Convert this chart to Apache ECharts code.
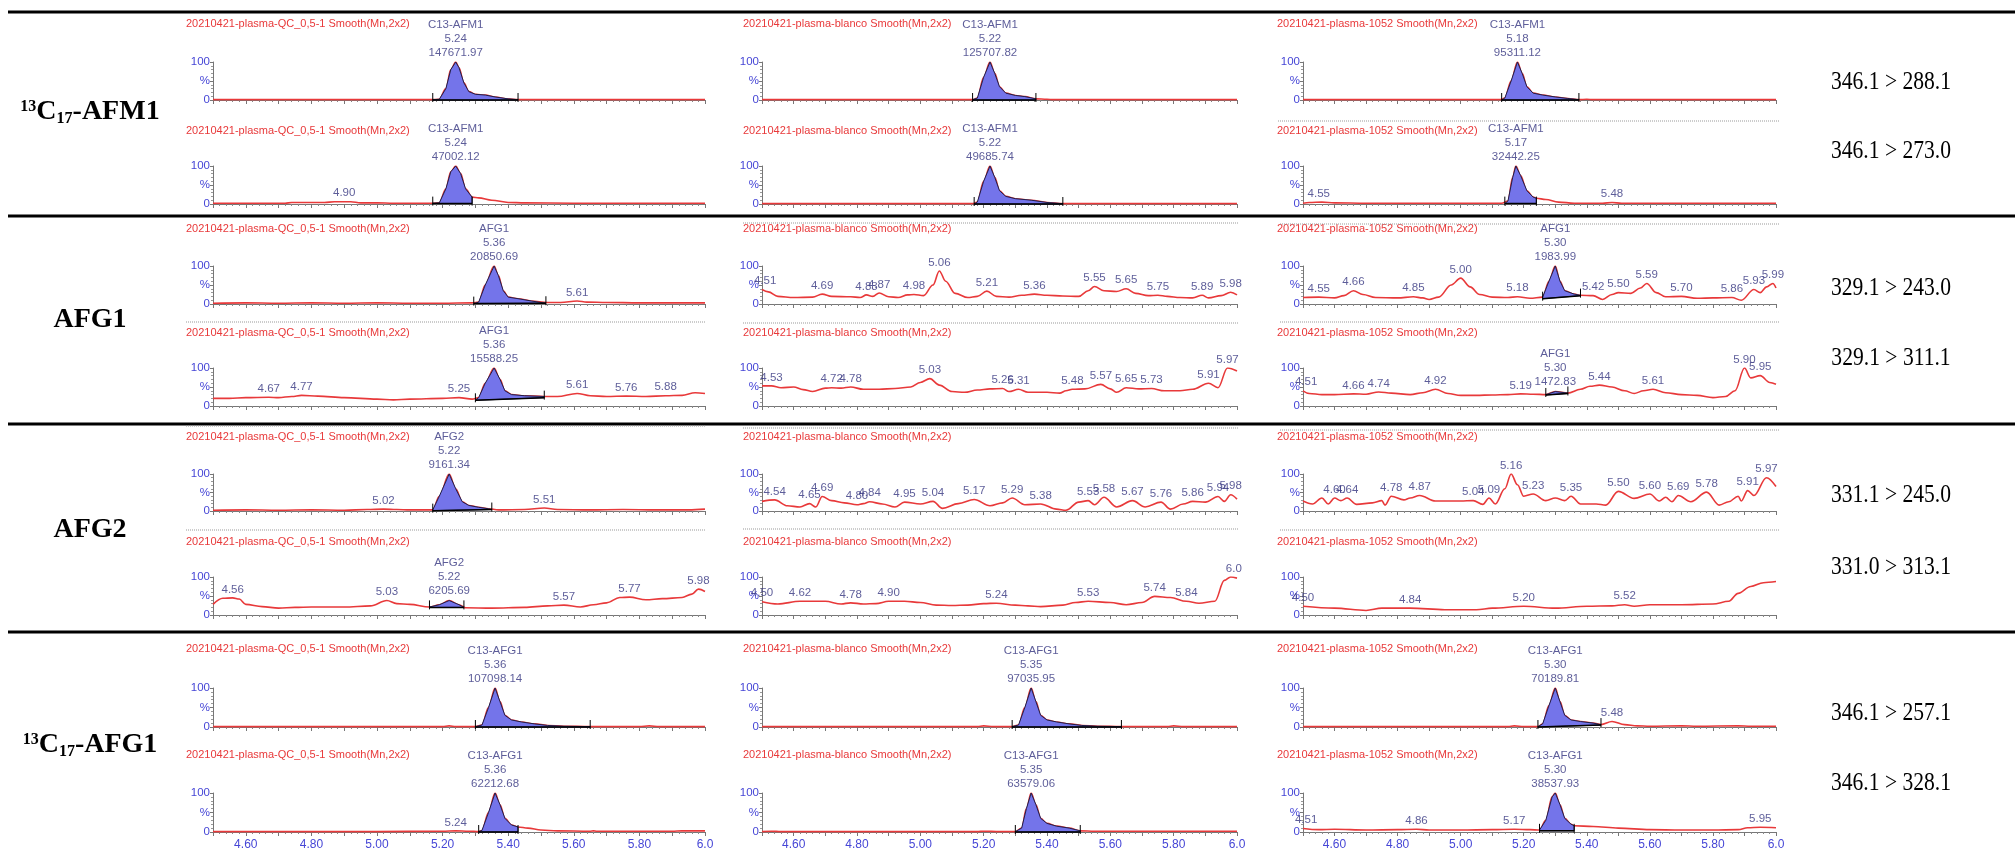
<!DOCTYPE html>
<html><head><meta charset="utf-8">
<script src="https://cdn.jsdelivr.net/npm/echarts@6/dist/echarts.min.js"></script>
<style>html,body{margin:0;padding:0;background:#fff}#c{width:2015px;height:856px}</style>
</head><body><div id="c"></div>
<script>
// ================= DATA =================
const compounds = ['13C17-AFM1', 'AFG1', 'AFG2', '13C17-AFG1'];
const transitions = [
  ['346.1 > 288.1', '346.1 > 273.0'],
  ['329.1 > 243.0', '329.1 > 311.1'],
  ['331.1 > 245.0', '331.0 > 313.1'],
  ['346.1 > 257.1', '346.1 > 328.1']
];
const samples = ['20210421-plasma-QC_0,5-1 Smooth(Mn,2x2)', '20210421-plasma-blanco Smooth(Mn,2x2)', '20210421-plasma-1052 Smooth(Mn,2x2)'];
const peakNames = ['C13-AFM1', 'AFG1', 'AFG2', 'C13-AFG1'];
const xLabels = ['4.60', '4.80', '5.00', '5.20', '5.40', '5.60', '5.80', '6.0'];

// --- row 1: 13C17-AFM1 ---
const afm1_qc_1 = [[4.5,1],[4.8,1],[5.0,1],[5.17,1],[5.19,2],[5.21,30],[5.225,80],[5.24,100],[5.25,85],[5.265,45],[5.28,22],[5.30,15],[5.33,13],[5.36,8],[5.40,3],[5.43,1],[5.6,1],[6.0,1]];
const afm1_qc_2 = [[4.5,2],[4.72,2],[4.74,4],[4.84,4],[4.87,6],[4.92,6],[4.95,3],[5.0,3],[5.05,2],[5.17,2],[5.19,3],[5.21,40],[5.225,85],[5.24,100],[5.255,80],[5.27,40],[5.29,18],[5.31,16],[5.35,10],[5.40,4],[5.45,3],[5.6,2],[6.0,2]];
const afm1_bl_1 = [[4.5,1],[5.0,1],[5.165,1],[5.18,5],[5.20,60],[5.22,100],[5.235,70],[5.25,35],[5.27,18],[5.30,12],[5.33,9],[5.365,3],[5.40,2],[5.42,1],[6.0,1]];
const afm1_bl_2 = [[4.5,1],[5.0,1],[5.165,1],[5.18,5],[5.20,60],[5.22,100],[5.235,70],[5.25,35],[5.27,20],[5.30,14],[5.35,10],[5.40,4],[5.45,1],[6.0,1]];
const afm1_s_1 = [[4.5,1],[5.0,1],[5.125,1],[5.14,5],[5.16,50],[5.18,100],[5.195,70],[5.21,35],[5.23,18],[5.26,13],[5.30,8],[5.34,4],[5.375,1],[5.40,2],[5.42,1],[6.0,1]];
const afm1_s_2 = [[4.5,2],[4.52,4],[4.56,5],[4.6,3],[4.7,2],[5.13,2],[5.15,8],[5.165,70],[5.175,100],[5.19,75],[5.21,35],[5.23,18],[5.24,15],[5.27,12],[5.31,5],[5.36,2],[5.45,2],[5.48,4],[5.51,2],[6.0,2]];
// integration: [start rt, start %, end rt, end %, rt label, area]
const int_afm1_qc_1 = [5.17, 0, 5.43, 0, '5.24', '147671.97'];
const int_afm1_qc_2 = [5.17, 1, 5.29, 1, '5.24', '47002.12'];
const int_afm1_bl_1 = [5.165, 0, 5.365, 0, '5.22', '125707.82'];
const int_afm1_bl_2 = [5.17, 0, 5.45, 0, '5.22', '49685.74'];
const int_afm1_s_1 = [5.13, 0, 5.375, 0, '5.18', '95311.12'];
const int_afm1_s_2 = [5.14, 1, 5.24, 1, '5.17', '32442.25'];
const lab_afm1_qc_2 = [[4.90, 6]];
const lab_afm1_s_2 = [[4.55, 5], [5.48, 4]];

// --- row 2: AFG1 ---
const afg1_qc_1 = [[4.5,2],[4.6,3],[4.7,2],[4.8,3],[4.9,2],[5.0,3],[5.1,2],[5.2,2],[5.29,3],[5.31,5],[5.33,50],[5.357,100],[5.37,75],[5.385,35],[5.40,18],[5.43,14],[5.47,8],[5.52,4],[5.56,4],[5.61,8],[5.64,5],[5.7,4],[5.8,3],[5.9,3],[6.0,3]];
const afg1_qc_2 = [[4.5,20],[4.55,20],[4.6,22],[4.67,23],[4.7,22],[4.74,25],[4.77,28],[4.82,26],[4.9,22],[5.0,18],[5.05,16],[5.1,18],[5.2,20],[5.25,22],[5.29,18],[5.31,22],[5.33,60],[5.357,100],[5.375,70],[5.39,40],[5.41,30],[5.45,27],[5.51,25],[5.55,25],[5.61,33],[5.65,27],[5.7,25],[5.76,26],[5.82,25],[5.88,27],[5.93,28],[5.97,35],[6.0,33]];
const afg1_bl_1 = [[4.5,38],[4.52,32],[4.55,20],[4.6,17],[4.66,18],[4.69,26],[4.72,20],[4.78,19],[4.81,17],[4.83,24],[4.85,20],[4.87,29],[4.9,19],[4.93,17],[4.96,24],[4.98,25],[5.01,22],[5.04,50],[5.06,87],[5.08,60],[5.11,28],[5.15,17],[5.18,20],[5.21,34],[5.24,20],[5.28,18],[5.32,23],[5.36,26],[5.4,23],[5.45,21],[5.5,20],[5.53,35],[5.55,46],[5.58,35],[5.62,33],[5.65,40],[5.68,28],[5.72,22],[5.75,23],[5.78,20],[5.82,17],[5.86,16],[5.89,23],[5.91,16],[5.95,22],[5.98,31],[6.0,24]];
const afg1_bl_2 = [[4.5,53],[4.53,53],[4.56,48],[4.6,50],[4.63,43],[4.66,38],[4.7,47],[4.72,48],[4.75,47],[4.78,50],[4.82,44],[4.87,44],[4.92,46],[4.97,50],[5.0,62],[5.03,72],[5.06,55],[5.1,38],[5.14,36],[5.18,42],[5.22,45],[5.26,46],[5.28,38],[5.31,44],[5.34,36],[5.4,36],[5.44,34],[5.46,40],[5.48,44],[5.52,45],[5.57,57],[5.6,45],[5.62,36],[5.65,48],[5.69,45],[5.73,46],[5.77,40],[5.82,40],[5.86,44],[5.91,60],[5.94,48],[5.97,100],[6.0,92]];
const afg1_s_1 = [[4.5,17],[4.55,18],[4.6,16],[4.63,22],[4.66,35],[4.69,25],[4.73,17],[4.8,16],[4.85,19],[4.88,16],[4.9,12],[4.93,18],[4.97,50],[5.0,68],[5.03,45],[5.06,25],[5.1,18],[5.15,17],[5.18,19],[5.22,15],[5.26,18],[5.28,60],[5.30,100],[5.315,60],[5.33,35],[5.36,26],[5.38,23],[5.42,22],[5.45,12],[5.48,25],[5.5,30],[5.54,28],[5.57,42],[5.59,54],[5.62,30],[5.65,19],[5.7,20],[5.75,15],[5.8,16],[5.86,17],[5.89,10],[5.93,38],[5.95,30],[5.97,45],[5.99,54],[6.0,42]];
const afg1_s_2 = [[4.5,40],[4.52,33],[4.56,30],[4.6,30],[4.66,32],[4.7,31],[4.74,37],[4.78,34],[4.84,30],[4.88,35],[4.92,44],[4.96,33],[5.0,28],[5.05,28],[5.1,29],[5.15,30],[5.19,32],[5.23,31],[5.27,30],[5.30,38],[5.34,34],[5.38,44],[5.41,52],[5.44,55],[5.48,50],[5.52,40],[5.55,33],[5.58,40],[5.61,44],[5.65,35],[5.7,30],[5.75,28],[5.8,22],[5.84,25],[5.87,40],[5.9,100],[5.92,74],[5.95,80],[5.98,62],[6.0,57]];
const int_afg1_qc_1 = [5.295, 1, 5.515, 2, '5.36', '20850.69'];
const int_afg1_qc_2 = [5.30, 15, 5.51, 22, '5.36', '15588.25'];
const int_afg1_s_1 = [5.26, 14, 5.38, 22, '5.30', '1983.99'];
const int_afg1_s_2 = [5.27, 29, 5.34, 33, '5.30', '1472.83'];
const lab_afg1_qc_1 = [[5.61, 8]];
const lab_afg1_qc_2 = [[4.67,23],[4.77,28],[5.25,22],[5.61,33],[5.76,26],[5.88,27]];
const lab_afg1_bl_1 = [[4.51,38],[4.69,26],[4.83,24],[4.87,29],[4.98,25],[5.06,87],[5.21,34],[5.36,26],[5.55,46],[5.65,40],[5.75,23],[5.89,23],[5.98,31]];
const lab_afg1_bl_2 = [[4.53,53],[4.72,48],[4.78,50],[5.03,72],[5.26,46],[5.31,44],[5.48,44],[5.57,57],[5.65,48],[5.73,46],[5.91,60],[5.97,100]];
const lab_afg1_s_1 = [[4.55,18],[4.66,35],[4.85,19],[5.00,68],[5.18,19],[5.42,22],[5.50,30],[5.59,54],[5.70,20],[5.86,17],[5.93,38],[5.99,54]];
const lab_afg1_s_2 = [[4.51,40],[4.66,32],[4.74,37],[4.92,44],[5.19,32],[5.44,55],[5.61,44],[5.90,100],[5.95,80]];

// --- row 3: AFG2 ---
const afg2_qc_1 = [[4.5,2],[4.6,3],[4.7,2],[4.8,3],[4.9,2],[4.97,4],[5.02,5],[5.06,4],[5.1,3],[5.17,3],[5.19,40],[5.22,100],[5.24,60],[5.26,25],[5.28,15],[5.31,10],[5.34,6],[5.37,3],[5.45,4],[5.51,8],[5.55,4],[5.65,3],[5.75,4],[5.85,3],[5.95,3],[6.0,5]];
const afg2_qc_2 = [[4.5,28],[4.53,44],[4.56,45],[4.58,42],[4.6,28],[4.65,22],[4.7,18],[4.75,20],[4.8,21],[4.9,21],[4.98,24],[5.03,38],[5.06,30],[5.1,28],[5.16,21],[5.19,27],[5.22,38],[5.25,27],[5.27,19],[5.35,18],[5.45,20],[5.52,24],[5.57,26],[5.62,21],[5.66,27],[5.7,32],[5.74,46],[5.77,47],[5.82,40],[5.87,43],[5.93,46],[5.96,55],[5.98,68],[6.0,62]];
const afg2_bl_1 = [[4.5,26],[4.54,30],[4.58,14],[4.62,11],[4.65,20],[4.67,11],[4.69,39],[4.72,28],[4.76,22],[4.80,17],[4.82,20],[4.84,25],[4.88,19],[4.92,11],[4.95,24],[5.0,19],[5.04,26],[5.07,7],[5.12,20],[5.17,31],[5.22,14],[5.26,22],[5.29,35],[5.33,17],[5.38,19],[5.43,5],[5.46,2],[5.50,24],[5.53,28],[5.55,17],[5.58,37],[5.62,11],[5.67,28],[5.71,11],[5.76,24],[5.79,5],[5.83,19],[5.86,26],[5.90,24],[5.94,39],[5.96,26],[5.98,44],[6.0,32]];
const afg2_bl_2 = [[4.5,35],[4.55,29],[4.62,36],[4.7,36],[4.75,29],[4.78,32],[4.82,29],[4.86,30],[4.9,36],[4.95,36],[5.0,33],[5.05,26],[5.1,25],[5.15,26],[5.2,30],[5.24,31],[5.3,26],[5.34,24],[5.38,22],[5.45,26],[5.49,33],[5.53,36],[5.6,33],[5.65,27],[5.7,33],[5.74,49],[5.79,46],[5.84,36],[5.88,31],[5.93,36],[5.96,91],[5.98,100],[6.0,97]];
const afg2_s_1 = [[4.5,27],[4.53,19],[4.56,35],[4.58,19],[4.60,35],[4.62,28],[4.64,35],[4.67,18],[4.72,22],[4.75,28],[4.76,16],[4.78,40],[4.82,30],[4.84,35],[4.87,42],[4.92,27],[5.0,27],[5.04,28],[5.07,18],[5.09,35],[5.11,19],[5.14,60],[5.16,100],[5.18,71],[5.20,40],[5.23,46],[5.27,28],[5.30,35],[5.33,28],[5.35,40],[5.38,19],[5.43,19],[5.46,16],[5.50,53],[5.55,34],[5.60,46],[5.63,27],[5.65,37],[5.67,25],[5.69,42],[5.73,25],[5.78,51],[5.82,16],[5.85,25],[5.88,40],[5.89,27],[5.91,55],[5.93,42],[5.97,90],[6.0,66]];
const afg2_s_2 = [[4.5,23],[4.6,18],[4.7,12],[4.75,18],[4.84,18],[4.95,14],[5.05,14],[5.1,18],[5.2,23],[5.3,18],[5.4,23],[5.48,24],[5.52,27],[5.55,23],[5.6,27],[5.7,27],[5.8,29],[5.85,36],[5.88,57],[5.92,75],[5.96,85],[6.0,88]];
const int_afg2_qc_1 = [5.17, 1, 5.35, 4, '5.22', '9161.34'];
const int_afg2_qc_2 = [5.16, 20, 5.265, 20, '5.22', '6205.69'];
const lab_afg2_qc_1 = [[5.02,5],[5.51,8]];
const lab_afg2_qc_2 = [[4.56,45],[5.03,38],[5.57,26],[5.77,47],[5.98,68]];
const lab_afg2_bl_1 = [[4.54,30],[4.65,20],[4.69,39],[4.80,17],[4.84,25],[4.95,24],[5.04,26],[5.17,31],[5.29,35],[5.38,19],[5.53,28],[5.58,37],[5.67,28],[5.76,24],[5.86,26],[5.94,39],[5.98,44]];
const lab_afg2_bl_2 = [[4.50,35],[4.62,36],[4.78,32],[4.90,36],[5.24,31],[5.53,36],[5.74,49],[5.84,36],[5.99,99,'6.0']];
const lab_afg2_s_1 = [[4.60,35],[4.64,35],[4.78,40],[4.87,42],[5.04,28],[5.09,35],[5.16,100],[5.23,46],[5.35,40],[5.50,53],[5.60,46],[5.69,42],[5.78,51],[5.91,55],[5.97,90]];
const lab_afg2_s_2 = [[4.50,23],[4.84,18],[5.20,23],[5.52,27]];

// --- row 4: 13C17-AFG1 ---
const afg1is_qc_1 = [[4.5,1],[5.0,1],[5.2,1],[5.22,3],[5.24,1],[5.30,1],[5.32,5],[5.34,50],[5.36,100],[5.375,65],[5.39,30],[5.41,18],[5.44,13],[5.48,8],[5.52,4],[5.57,2],[5.65,1],[5.8,1],[5.83,3],[5.86,1],[6.0,1]];
const afg1is_qc_2 = [[4.5,1],[5.0,1],[5.2,2],[5.24,3],[5.28,2],[5.31,1],[5.32,4],[5.34,50],[5.36,100],[5.375,70],[5.39,35],[5.41,18],[5.43,13],[5.46,10],[5.5,5],[5.55,3],[5.65,2],[5.66,3],[5.67,2],[5.9,2],[5.93,3],[6.0,3]];
const afg1is_bl_1 = [[4.5,1],[5.0,1],[5.18,1],[5.2,3],[5.23,1],[5.29,1],[5.31,5],[5.33,50],[5.35,100],[5.365,65],[5.38,30],[5.40,18],[5.43,13],[5.47,8],[5.51,4],[5.56,2],[5.635,1],[5.78,1],[5.8,3],[5.83,1],[6.0,1]];
const afg1is_bl_2 = [[4.5,1],[4.53,2],[4.56,1],[5.0,1],[5.18,1],[5.2,2],[5.25,1],[5.30,1],[5.32,10],[5.335,60],[5.35,100],[5.365,70],[5.38,35],[5.40,22],[5.43,15],[5.47,10],[5.505,3],[5.55,2],[5.6,2],[6.0,2]];
const afg1is_s_1 = [[4.5,1],[5.0,1],[5.15,1],[5.17,3],[5.2,1],[5.245,1],[5.26,8],[5.28,55],[5.30,100],[5.315,65],[5.33,30],[5.35,18],[5.38,14],[5.42,10],[5.445,6],[5.48,14],[5.52,6],[5.56,3],[5.6,2],[5.7,3],[5.75,2],[5.88,3],[5.92,2],[6.0,2]];
const afg1is_s_2 = [[4.5,9],[4.55,6],[4.6,7],[4.7,5],[4.8,6],[4.86,7],[4.9,5],[5.0,5],[5.1,6],[5.17,7],[5.22,6],[5.25,5],[5.27,30],[5.29,90],[5.30,100],[5.315,70],[5.33,35],[5.35,20],[5.36,16],[5.42,14],[5.5,10],[5.6,6],[5.7,5],[5.8,5],[5.88,6],[5.91,11],[5.95,12],[6.0,11]];
const int_afg1is_qc_1 = [5.30, 0, 5.65, 0, '5.36', '107098.14'];
const int_afg1is_qc_2 = [5.31, 0, 5.43, 0, '5.36', '62212.68'];
const int_afg1is_bl_1 = [5.29, 0, 5.635, 0, '5.35', '97035.95'];
const int_afg1is_bl_2 = [5.30, 0, 5.505, 0, '5.35', '63579.06'];
const int_afg1is_s_1 = [5.245, 0, 5.445, 5, '5.30', '70189.81'];
const int_afg1is_s_2 = [5.25, 3, 5.36, 3, '5.30', '38537.93'];
const lab_afg1is_qc_2 = [[5.24,3]];
const lab_afg1is_s_1 = [[5.48,14]];
const lab_afg1is_s_2 = [[4.51,9],[4.86,7],[5.17,7],[5.95,12]];

// panel table: [row][col][sub] -> [trace, integration, labels]
const panels = [
  [[[afm1_qc_1,int_afm1_qc_1,[]],[afm1_qc_2,int_afm1_qc_2,lab_afm1_qc_2]],
   [[afm1_bl_1,int_afm1_bl_1,[]],[afm1_bl_2,int_afm1_bl_2,[]]],
   [[afm1_s_1,int_afm1_s_1,[]],[afm1_s_2,int_afm1_s_2,lab_afm1_s_2]]],
  [[[afg1_qc_1,int_afg1_qc_1,lab_afg1_qc_1],[afg1_qc_2,int_afg1_qc_2,lab_afg1_qc_2]],
   [[afg1_bl_1,null,lab_afg1_bl_1],[afg1_bl_2,null,lab_afg1_bl_2]],
   [[afg1_s_1,int_afg1_s_1,lab_afg1_s_1],[afg1_s_2,int_afg1_s_2,lab_afg1_s_2]]],
  [[[afg2_qc_1,int_afg2_qc_1,lab_afg2_qc_1],[afg2_qc_2,int_afg2_qc_2,lab_afg2_qc_2]],
   [[afg2_bl_1,null,lab_afg2_bl_1],[afg2_bl_2,null,lab_afg2_bl_2]],
   [[afg2_s_1,null,lab_afg2_s_1],[afg2_s_2,null,lab_afg2_s_2]]],
  [[[afg1is_qc_1,int_afg1is_qc_1,[]],[afg1is_qc_2,int_afg1is_qc_2,lab_afg1is_qc_2]],
   [[afg1is_bl_1,int_afg1is_bl_1,[]],[afg1is_bl_2,int_afg1is_bl_2,[]]],
   [[afg1is_s_1,int_afg1is_s_1,lab_afg1is_s_1],[afg1is_s_2,int_afg1is_s_2,lab_afg1is_s_2]]]
];

// ================= LAYOUT / STYLE =================
const colLeft = [213, 762, 1303];
const colWidth = [492, 475, 473];
const titleLeft = [186, 743, 1277];
const yTop = [[62,166],[266,368],[474,577],[688,793]];
const yBot = [[100,204],[304,406],[511,615],[727,832]];
const titleY = [[24,131],[229,333],[437,542],[649,755]];
const rowLabelY = [112, 320, 530, 745];
const transX = 1891;
const transY = [[82,151],[288,358],[495,567],[713,783]];
const borderY = [12, 216, 424, 632];
const dotted = [[121,1278,1779],[223,743,1238],[224,1280,1779],[322,186,705],[323,743,1238],[322,1280,1779],
                [426,186,705],[428,743,1238],[430,1280,1779],[530,186,705],[529,743,1238],[530,1280,1779]];
const RED = '#e8393a', BLUE_AX = '#4646d6', NAVY = '#35357f', FONT = 'Liberation Sans, Arial, sans-serif';

const grid = [], xAxis = [], yAxis = [], series = [], graphic = [];
let idx = 0;
function peakRender(tr, ig) {
  return function (params, api) {
    const s = api.coord([ig[0], ig[1]]), e = api.coord([ig[2], ig[3]]);
    const pts = [s];
    tr.forEach(p => { if (p[0] >= ig[0] && p[0] <= ig[2]) pts.push(api.coord(p)); });
    pts.push(e);
    return { type: 'group', children: [
      { type: 'polygon', shape: { points: pts }, style: { fill: '#7474ea', stroke: '#1e1e4a', lineWidth: 1 } },
      { type: 'line', shape: { x1: s[0], y1: s[1], x2: e[0], y2: e[1] }, style: { stroke: '#000', lineWidth: 1.5 } },
      { type: 'line', shape: { x1: s[0], y1: s[1] - 7, x2: s[0], y2: s[1] + 2 }, style: { stroke: '#000', lineWidth: 1 } },
      { type: 'line', shape: { x1: e[0], y1: e[1] - 7, x2: e[0], y2: e[1] + 2 }, style: { stroke: '#000', lineWidth: 1 } }
    ]};
  };
}
for (let r = 0; r < 4; r++) {
  for (let c = 0; c < 3; c++) {
    for (let s = 0; s < 2; s++) {
      const [tr, ig, labs] = panels[r][c][s];
      const bottom = (r === 3 && s === 1);
      grid.push({ left: colLeft[c], width: colWidth[c], top: yTop[r][s], height: yBot[r][s] - yTop[r][s] });
      xAxis.push({ type: 'value', gridIndex: idx, min: 4.5, max: 6.0, interval: 0.1,
        axisLine: { show: true, onZero: false, lineStyle: { color: '#777', width: 1 } },
        axisTick: { show: true, length: 4, lineStyle: { color: '#777' } },
        minorTick: { show: true, splitNumber: 5, length: 2, lineStyle: { color: '#888' } },
        splitLine: { show: false },
        axisLabel: { show: bottom, margin: 7, color: BLUE_AX, fontSize: 12, fontFamily: FONT,
          formatter: v => { const k = Math.round(v * 10); if (k % 2) return ''; const i = (k - 46) / 2; return xLabels[i] || ''; } }
      });
      yAxis.push({ type: 'value', gridIndex: idx, min: 0, max: 100, interval: 50,
        axisLine: { show: true, lineStyle: { color: '#777', width: 1 } },
        axisTick: { show: true, length: 3, lineStyle: { color: '#777' } },
        minorTick: { show: true, splitNumber: 5, length: 2, lineStyle: { color: '#999' } },
        splitLine: { show: false },
        axisLabel: { margin: 3, color: BLUE_AX, fontSize: 11.5, fontFamily: FONT,
          formatter: v => v === 0 ? '0' : (v === 50 ? '%' : '100') }
      });
      series.push({ type: 'line', xAxisIndex: idx, yAxisIndex: idx, data: tr, symbol: 'none', silent: true,
        smooth: 0.35, smoothMonotone: 'x', lineStyle: { color: RED, width: 1.6 }, z: 2 });
      if (ig) {
        let apex = null;
        tr.forEach(p => { if (p[0] >= ig[0] && p[0] <= ig[2] && (!apex || p[1] > apex[1])) apex = p; });
        series.push({ type: 'custom', xAxisIndex: idx, yAxisIndex: idx, coordinateSystem: 'cartesian2d', silent: true,
          data: [[ig[0], ig[1]]], renderItem: peakRender(tr, ig), z: 3, clip: false });
        series.push({ type: 'scatter', xAxisIndex: idx, yAxisIndex: idx, silent: true, symbolSize: 1,
          itemStyle: { color: 'rgba(0,0,0,0)' }, z: 5,
          data: [[apex[0], apex[1], peakNames[r] + '\n' + ig[4] + '\n' + ig[5]]],
          label: { show: true, position: 'top', distance: 2, color: NAVY, fontSize: 11.5, lineHeight: 14, fontFamily: FONT, formatter: p => p.data[2] } });
      }
      if (labs.length) {
        series.push({ type: 'scatter', xAxisIndex: idx, yAxisIndex: idx, silent: true, symbolSize: 1,
          itemStyle: { color: 'rgba(0,0,0,0)' }, z: 5,
          data: labs.map(l => [l[0], l[1], l[2] || l[0].toFixed(2)]),
          label: { show: true, position: 'top', distance: 2, color: NAVY, fontSize: 11.5, fontFamily: FONT, formatter: p => p.data[2] } });
      }
      graphic.push({ type: 'text', x: titleLeft[c], y: titleY[r][s], silent: true,
        style: { text: samples[c], fill: RED, font: '11px ' + FONT, align: 'left', verticalAlign: 'middle' } });
      idx++;
    }
  }
  for (let s = 0; s < 2; s++) {
    graphic.push({ type: 'text', x: transX, y: transY[r][s], scaleX: 0.83, silent: true,
      style: { text: transitions[r][s], fill: '#000', font: '26px Liberation Serif, Times New Roman, serif', align: 'center', verticalAlign: 'middle' } });
  }
  const name = compounds[r];
  let txt;
  if (name.startsWith('13C17')) txt = '{sup|13}{big|C}{sub|17}{big|' + name.slice(5) + '}';
  else txt = '{big|' + name + '}';
  graphic.push({ type: 'text', x: 90, y: rowLabelY[r], silent: true,
    style: { text: txt, align: 'center', verticalAlign: 'middle', fill: '#000',
      rich: {
        big: { fontSize: 28, fontWeight: 'bold', fontFamily: 'Liberation Serif, serif', lineHeight: 34, verticalAlign: 'middle' },
        sup: { fontSize: 16, fontWeight: 'bold', fontFamily: 'Liberation Serif, serif', lineHeight: 34, verticalAlign: 'top', padding: [4, 0, 0, 0] },
        sub: { fontSize: 16, fontWeight: 'bold', fontFamily: 'Liberation Serif, serif', lineHeight: 34, verticalAlign: 'bottom', padding: [0, 0, 2, 0] }
      } } });
}
borderY.forEach(y => graphic.push({ type: 'line', silent: true, shape: { x1: 8, y1: y, x2: 2015, y2: y }, style: { stroke: '#000', lineWidth: 3 } }));
dotted.forEach(d => graphic.push({ type: 'line', silent: true, shape: { x1: d[1], y1: d[0], x2: d[2], y2: d[0] }, style: { stroke: '#999', lineWidth: 1, lineDash: [1, 1] } }));

const chart = echarts.init(document.getElementById('c'), null, { renderer: 'canvas' });
chart.setOption({ animation: false, backgroundColor: '#fff', grid, xAxis, yAxis, series, graphic });
</script></body></html>
